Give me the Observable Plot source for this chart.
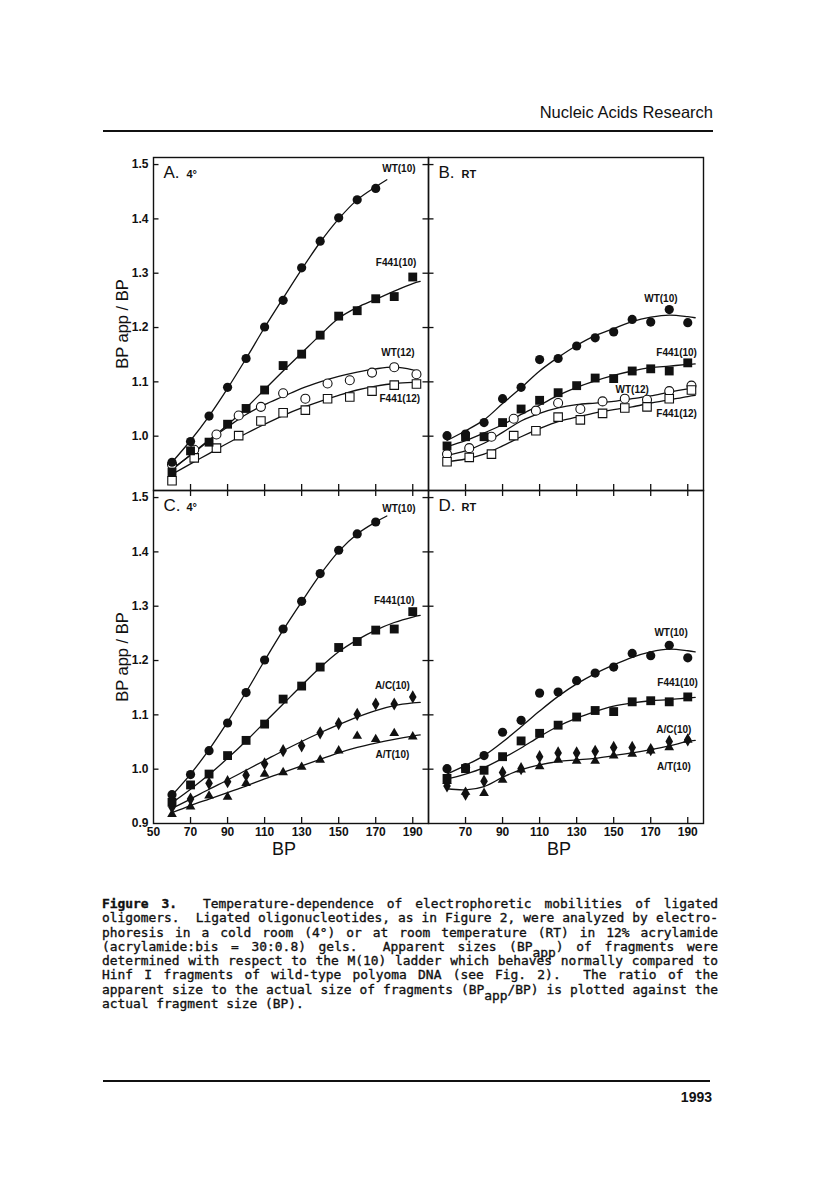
<!DOCTYPE html>
<html><head><meta charset="utf-8">
<script src="https://cdn.jsdelivr.net/npm/d3@7"></script>
<script src="https://cdn.jsdelivr.net/npm/@observablehq/plot@0.6"></script>
<style>
body{margin:0;background:#fff;}
#page{position:relative;width:816px;height:1185px;overflow:hidden;background:#fff;color:#111;font-family:"Liberation Sans",Arial,sans-serif;}
.abs{position:absolute;}
#header{right:103px;top:103px;font-size:16.5px;white-space:nowrap;}
.rule{background:#111;height:2px;}
#chart{left:100px;top:140px;}
#chart svg{overflow:visible;}
#caption{left:102px;top:897px;width:616px;font-family:"DejaVu Sans Mono",monospace;font-size:12.9px;color:#111;-webkit-text-stroke:0.35px #111;}
.cl{height:14.3px;line-height:14.3px;text-align:justify;text-align-last:justify;white-space:nowrap;}
.cl.last{text-align-last:left;}
.sb{position:relative;top:6px;}
#pageno{right:104px;top:1089px;font-size:14px;font-weight:bold;}
</style>
</head><body>
<div id="page">
  <div id="header" class="abs">Nucleic Acids Research</div>
  <div class="abs rule" style="left:103px;top:130px;width:610px;"></div>
  <div id="chart" class="abs"></div>
  <div id="caption" class="abs">
    <div class="cl"><b>Figure 3.</b>&nbsp; Temperature-dependence of electrophoretic mobilities of ligated</div>
    <div class="cl">oligomers.&nbsp; Ligated oligonucleotides, as in Figure 2, were analyzed by electro-</div>
    <div class="cl">phoresis in a cold room (4°) or at room temperature (RT) in 12% acrylamide</div>
    <div class="cl">(acrylamide:bis = 30:0.8) gels.&nbsp; Apparent sizes (BP<span class="sb">app</span>) of fragments were</div>
    <div class="cl">determined with respect to the M(10) ladder which behaves normally compared to</div>
    <div class="cl">Hinf I fragments of wild-type polyoma DNA (see Fig. 2).&nbsp; The ratio of the</div>
    <div class="cl">apparent size to the actual size of fragments (BP<span class="sb">app</span>/BP) is plotted against the</div>
    <div class="cl last">actual fragment size (BP).</div>
  </div>
  <div class="abs rule" style="left:103px;top:1080px;width:607px;"></div>
  <div id="pageno" class="abs">1993</div>
</div>
<script>
// ---------- data ----------
const bp10 = [60,70,80,90,100,110,120,130,140,150,160,170,180,190];
const bp12 = [60,72,84,96,108,120,132,144,156,168,180,192];
const fitX = [60,70,80,90,100,110,120,130,140,150,160,170,180,190,194];
const fitXWT4 = [60,70,80,90,100,110,120,130,140,150,160,170,176];

const yTicks = [1.0,1.1,1.2,1.3,1.4,1.5];
const yTickLabelsTop = [1.0,1.1,1.2,1.3,1.4,1.5];
const yTickLabelsBottom = [0.9,1.0,1.1,1.2,1.3,1.4,1.5];
const xTicks = [70,90,110,130,150,170,190];
const xTickLabelsLeft = [50,70,90,110,130,150,170,190];
const xTickLabelsRight = [70,90,110,130,150,170,190];

// Panel A (4°)
const aWT10   = [0.952,0.990,1.037,1.090,1.143,1.201,1.250,1.310,1.359,1.402,1.435,1.456];
const aF441_10= [0.934,0.973,0.989,1.022,1.051,1.085,1.130,1.151,1.186,1.221,1.231,1.253,1.257,1.293];
const aWT12   = [0.948,0.975,1.003,1.038,1.054,1.079,1.069,1.097,1.103,1.117,1.127,1.114];
const aF441_12= [0.918,0.960,0.978,1.001,1.028,1.043,1.048,1.069,1.072,1.083,1.094,1.096];
const aFitWT10   = [0.952,0.992,1.037,1.088,1.143,1.200,1.254,1.307,1.357,1.400,1.435,1.459,1.472];
const aFitF441_10= [0.940,0.965,0.992,1.021,1.052,1.086,1.120,1.153,1.186,1.217,1.237,1.252,1.267,1.281,1.285];
const aFitWT12   = [0.938,0.966,0.993,1.017,1.040,1.058,1.073,1.088,1.100,1.110,1.118,1.124,1.127,1.122,1.118];
const aFitF441_12= [0.930,0.949,0.968,0.987,1.005,1.022,1.038,1.052,1.064,1.075,1.085,1.092,1.097,1.099,1.099];

// Panel B (RT)
const bWT10   = [1.001,1.004,1.025,1.069,1.090,1.141,1.143,1.166,1.181,1.192,1.215,1.210,1.233,1.209];
const bF441_10= [0.982,0.999,0.999,1.025,1.050,1.066,1.080,1.093,1.107,1.106,1.120,1.124,1.120,1.135];
const bWT12   = [0.967,0.978,0.999,1.032,1.047,1.061,1.050,1.064,1.069,1.067,1.083,1.093];
const bF441_12= [0.953,0.961,0.967,1.001,1.010,1.035,1.030,1.042,1.052,1.054,1.069,1.085];
const bFitWT10   = [0.992,1.010,1.030,1.060,1.089,1.120,1.145,1.167,1.185,1.198,1.211,1.219,1.223,1.220,1.218];
const bFitF441_10= [0.981,0.992,1.006,1.021,1.040,1.057,1.075,1.090,1.102,1.112,1.120,1.126,1.129,1.132,1.133];
const bFitWT12   = [0.965,0.973,0.987,1.007,1.028,1.042,1.052,1.058,1.061,1.064,1.069,1.074,1.081,1.087,1.089];
const bFitF441_12= [0.953,0.958,0.967,0.982,0.999,1.014,1.027,1.035,1.043,1.049,1.054,1.061,1.067,1.073,1.075];

// Panel C (4°)
const cWT10   = [0.953,0.990,1.034,1.085,1.141,1.201,1.258,1.309,1.360,1.403,1.433,1.455];
const cF441_10= [0.939,0.971,0.991,1.025,1.053,1.083,1.129,1.153,1.188,1.224,1.235,1.256,1.258,1.290];
const cAC10   = [0.930,0.945,0.974,0.977,0.989,1.010,1.034,1.043,1.067,1.084,1.101,1.120,1.120,1.133];
const cAT10   = [0.917,0.931,0.951,0.949,0.974,0.991,0.994,1.004,1.017,1.034,1.061,1.055,1.066,1.060];
const cFitWT10   = [0.952,0.991,1.036,1.087,1.142,1.200,1.256,1.308,1.358,1.401,1.433,1.455,1.466];
const cFitF441_10= [0.938,0.963,0.990,1.020,1.052,1.086,1.120,1.154,1.187,1.216,1.238,1.256,1.270,1.280,1.283];
const cFitAC10   = [0.928,0.945,0.963,0.980,0.998,1.016,1.034,1.051,1.067,1.082,1.096,1.108,1.117,1.122,1.123];
const cFitAT10   = [0.920,0.933,0.945,0.957,0.969,0.982,0.994,1.006,1.018,1.030,1.040,1.048,1.055,1.061,1.063];

// Panel D (RT)
const dWT10   = [1.001,1.003,1.025,1.068,1.090,1.140,1.142,1.163,1.177,1.188,1.213,1.209,1.228,1.205];
const dF441_10= [0.983,1.001,0.998,1.023,1.052,1.066,1.081,1.096,1.108,1.106,1.124,1.126,1.124,1.133];
const dAC10   = [0.969,0.954,0.978,0.994,1.001,1.023,1.030,1.030,1.033,1.040,1.040,1.036,1.051,1.054];
const dAT10   = [0.978,0.958,0.956,0.980,0.999,1.005,1.017,1.015,1.015,1.025,1.028,1.034,1.040,1.054];
const dFitWT10   = [0.991,1.007,1.025,1.050,1.078,1.107,1.134,1.157,1.176,1.192,1.206,1.216,1.221,1.218,1.216];
const dFitF441_10= [0.982,0.991,1.003,1.020,1.039,1.060,1.079,1.094,1.106,1.116,1.122,1.126,1.128,1.131,1.132];
const dFitACAT   = [0.964,0.962,0.968,0.985,0.999,1.008,1.014,1.017,1.020,1.025,1.030,1.036,1.043,1.051,1.053];

// Labels
const panelNames = ["A","B","C","D"];
const panelLetters = ["A.","B.","C.","D."];
const panelTemps = ["4°","RT","4°","RT"];
const seriesLabelPanel = ["A","A","A","A","B","B","B","B","C","C","C","C","D","D","D","D"];
const seriesLabelText = ["WT(10)","F441(10)","WT(12)","F441(12)","WT(10)","F441(10)","WT(12)","F441(12)",
  "WT(10)","F441(10)","A/C(10)","A/T(10)","WT(10)","F441(10)","A/C(10)","A/T(10)"];
const seriesLabelX = [182.5,181,182,183, 175.5,184,160,184, 182.5,180,179,179, 181,184.5,182.5,182.5];
const seriesLabelY = [1.493,1.320,1.154,1.069, 1.252,1.154,1.086,1.041, 1.479,1.310,1.153,1.026, 1.251,1.159,1.073,1.005];
const yAxisLabel = "BP app / BP";
const xAxisLabel = "BP";

// ---------- build tables ----------
const panelKey = {A:["L","top"], B:["R","top"], C:["L","bottom"], D:["R","bottom"]};
const points = [];
const fits = [];
function addPts(panel, series, xs, ys) {
  ys.forEach((v, i) => points.push({fx: panelKey[panel][0], fy: panelKey[panel][1], series, x: xs[i], y: v}));
}
function addFit(panel, id, xs, ys) {
  ys.forEach((v, i) => fits.push({fx: panelKey[panel][0], fy: panelKey[panel][1], id: panel + id, x: xs[i], y: v}));
}
addPts("A","WT10",bp10,aWT10); addPts("A","F441_10",bp10,aF441_10); addPts("A","WT12",bp12,aWT12); addPts("A","F441_12",bp12,aF441_12);
addPts("B","WT10",bp10,bWT10); addPts("B","F441_10",bp10,bF441_10); addPts("B","WT12",bp12,bWT12); addPts("B","F441_12",bp12,bF441_12);
addPts("C","WT10",bp10,cWT10); addPts("C","F441_10",bp10,cF441_10); addPts("C","AC10",bp10,cAC10); addPts("C","AT10",bp10,cAT10);
addPts("D","WT10",bp10,dWT10); addPts("D","F441_10",bp10,dF441_10); addPts("D","AC10",bp10,dAC10); addPts("D","AT10",bp10,dAT10);
addFit("A","wt10",fitXWT4,aFitWT10); addFit("A","f10",fitX,aFitF441_10); addFit("A","wt12",fitX,aFitWT12); addFit("A","f12",fitX,aFitF441_12);
addFit("B","wt10",fitX,bFitWT10); addFit("B","f10",fitX,bFitF441_10); addFit("B","wt12",fitX,bFitWT12); addFit("B","f12",fitX,bFitF441_12);
addFit("C","wt10",fitXWT4,cFitWT10); addFit("C","f10",fitX,cFitF441_10); addFit("C","ac",fitX,cFitAC10); addFit("C","at",fitX,cFitAT10);
addFit("D","wt10",fitX,dFitWT10); addFit("D","f10",fitX,dFitF441_10); addFit("D","acat",fitX,dFitACAT);

const seriesLabels = seriesLabelText.map((t, i) => ({fx: panelKey[seriesLabelPanel[i]][0], fy: panelKey[seriesLabelPanel[i]][1], t, x: seriesLabelX[i], y: seriesLabelY[i]}));
const panels = panelNames.map((p, i) => ({fx: panelKey[p][0], fy: panelKey[p][1], letter: panelLetters[i], temp: panelTemps[i]}));
const yLabelRows = [...yTickLabelsTop.map(v => ({fy: "top", v})), ...yTickLabelsBottom.map(v => ({fy: "bottom", v}))];
const xLabelRows = [...xTickLabelsLeft.map(v => ({fx: "L", v})), ...xTickLabelsRight.map(v => ({fx: "R", v}))];

const WIDTH = 616, HEIGHT = 728, ML = 52, MR = 13, MT = 17, MB = 45;
const FW = (WIDTH - ML - MR) / 2, FH = (HEIGHT - MT - MB) / 2;
const TK = 6;
const ink = "#111";
const sel = s => points.filter(d => d.series === s);

const chart = Plot.plot({
  width: WIDTH, height: HEIGHT,
  marginLeft: ML, marginRight: MR, marginTop: MT, marginBottom: MB,
  fx: {domain: ["L","R"], padding: 0, axis: null},
  fy: {domain: ["top","bottom"], padding: 0, axis: null},
  x: {domain: [50, 198.5], axis: null},
  y: {domain: [0.9, 1.513], axis: null},
  style: {fontFamily: "'Liberation Sans', Arial, sans-serif", color: ink, background: "transparent", overflow: "visible"},
  marks: [
    Plot.frame({stroke: ink, strokeWidth: 1.4}),
    // inward ticks
    Plot.tickY(yTicks, {y: d => d, insetRight: FW - TK, stroke: ink, strokeWidth: 1.3}),
    Plot.tickY(yTicks, {y: d => d, fx: () => "L", insetLeft: FW - TK, stroke: ink, strokeWidth: 1.3}),
    Plot.tickX(xTicks, {x: d => d, insetTop: FH - TK, stroke: ink, strokeWidth: 1.3}),
    Plot.tickX(xTicks, {x: d => d, fy: () => "bottom", insetBottom: FH - TK, stroke: ink, strokeWidth: 1.3}),
    // tick labels
    Plot.text(yLabelRows, {fx: () => "L", fy: "fy", y: "v", frameAnchor: "left", dx: -5, textAnchor: "end",
      text: d => d.v.toFixed(1), fontSize: 12, fontWeight: "bold", fill: ink}),
    Plot.text(xLabelRows, {fx: "fx", fy: () => "bottom", x: "v", frameAnchor: "bottom", dy: 4, lineAnchor: "top",
      text: d => String(d.v), fontSize: 12, fontWeight: "bold", fill: ink}),
    // axis titles
    Plot.text(["top","bottom"], {fx: () => "L", fy: d => d, frameAnchor: "left", dx: -31, rotate: -90,
      textAnchor: "middle", text: () => yAxisLabel, fontSize: 16.5, fill: ink}),
    Plot.text(["L","R"], {fx: d => d, fy: () => "bottom", frameAnchor: "bottom", dy: 31, dx: -7,
      textAnchor: "middle", text: () => xAxisLabel, fontSize: 18, fill: ink}),
    // panel letters
    Plot.text(panels, {fx: "fx", fy: "fy", frameAnchor: "top-left", dx: 10, dy: 8, lineAnchor: "top", textAnchor: "start",
      text: "letter", fontSize: 17, fill: ink}),
    Plot.text(panels, {fx: "fx", fy: "fy", frameAnchor: "top-left", dx: 33, dy: 13, lineAnchor: "top", textAnchor: "start",
      text: "temp", fontSize: 11, fontWeight: "bold", fill: ink}),
    // fitted curves
    Plot.line(fits, {x: "x", y: "y", fx: "fx", fy: "fy", z: "id", curve: "catmull-rom", stroke: ink, strokeWidth: 1.3}),
    // open symbols
    Plot.dot(sel("WT12"), {x: "x", y: "y", fx: "fx", fy: "fy", r: 4.5, fill: "white", stroke: ink, strokeWidth: 1.1}),
    Plot.dot(sel("F441_12"), {x: "x", y: "y", fx: "fx", fy: "fy", symbol: "square", r: 4.8, fill: "white", stroke: ink, strokeWidth: 1.1}),
    // filled symbols
    Plot.dot(sel("AT10"), {x: "x", y: "y", fx: "fx", fy: "fy", symbol: "triangle", r: 3.6, fill: ink, stroke: "none"}),
    Plot.dot(sel("AC10"), {x: "x", y: "y", fx: "fx", fy: "fy", symbol: "diamond", r: 4, fill: ink, stroke: "none"}),
    Plot.dot(sel("F441_10"), {x: "x", y: "y", fx: "fx", fy: "fy", symbol: "square", r: 5, fill: ink, stroke: "none"}),
    Plot.dot(sel("WT10"), {x: "x", y: "y", fx: "fx", fy: "fy", symbol: "circle", r: 4.6, fill: ink, stroke: "none"}),
    // series labels
    Plot.text(seriesLabels, {x: "x", y: "y", fx: "fx", fy: "fy", text: "t", fontSize: 10, fontWeight: "bold", fill: ink})
  ]
});
document.getElementById("chart").appendChild(chart);
</script>
</body></html>
